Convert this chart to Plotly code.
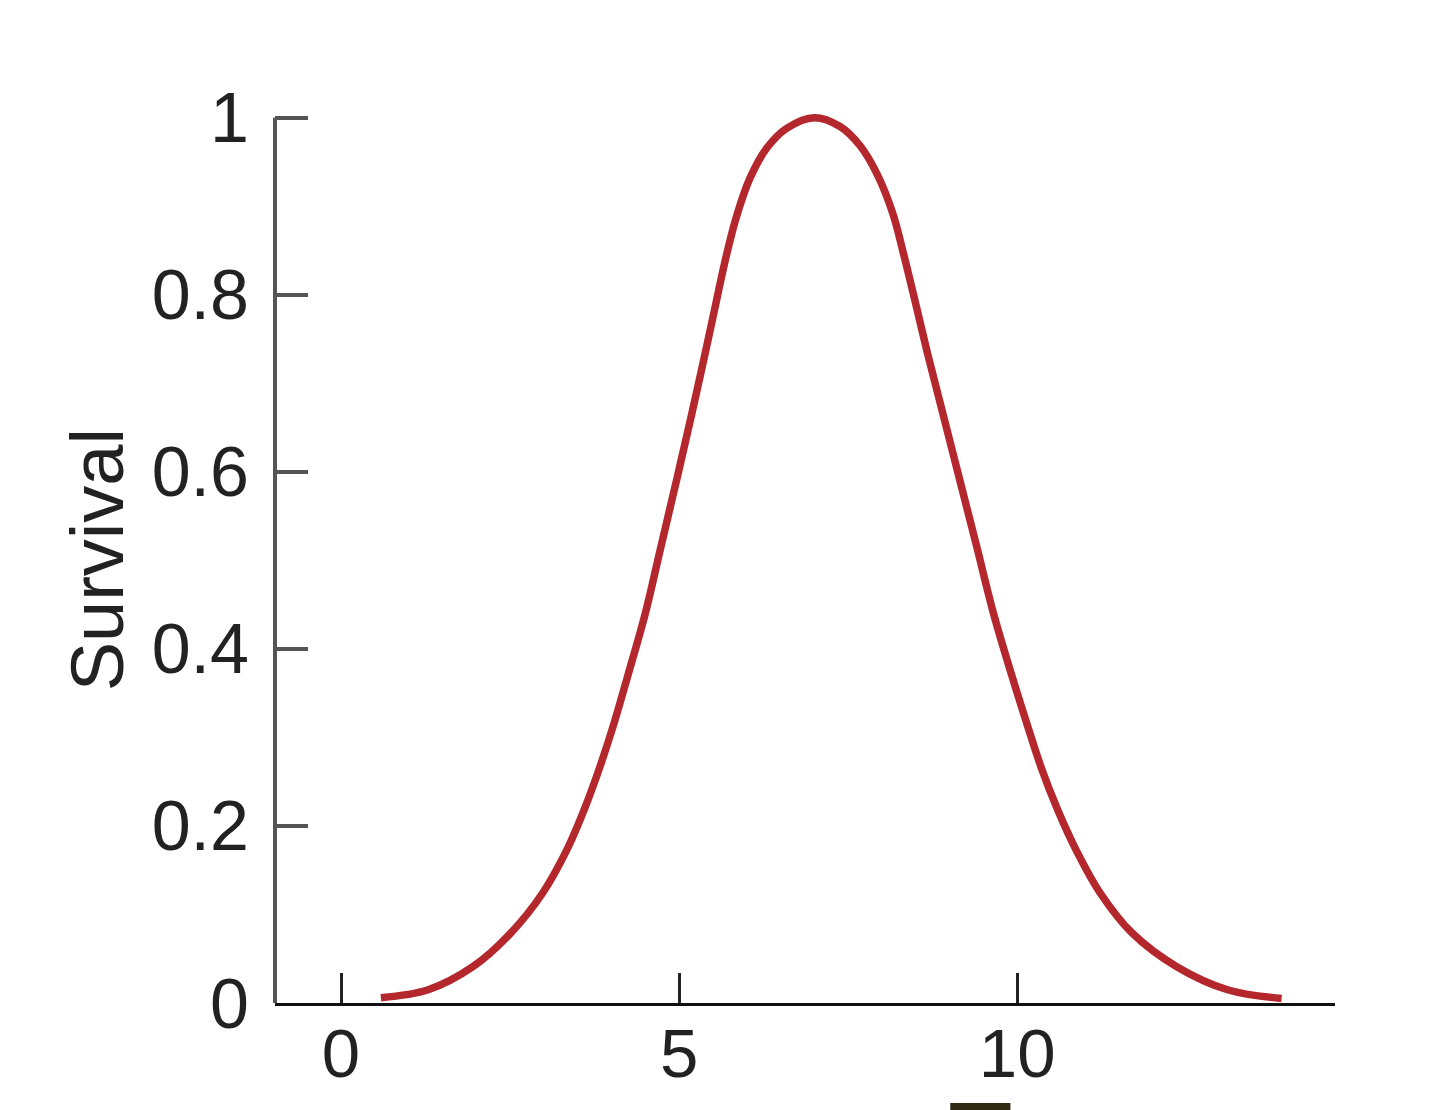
import plotly.graph_objects as go

# Data
x_vals = [0.59, 1.29, 1.95, 2.51, 2.98, 3.34, 3.61, 3.83, 4.03, 4.25, 4.50, 4.73, 4.97,
          5.18, 5.36, 5.53, 5.68, 5.84, 6.05, 6.30, 6.59, 7.00, 7.38, 7.68, 7.93, 8.16,
          8.32, 8.48, 8.67, 8.90, 9.15, 9.40, 9.65, 9.92, 10.15, 10.36, 10.60, 10.87,
          11.23, 11.70, 12.36, 13.11, 13.91]
survival = [0.006, 0.015, 0.041, 0.079, 0.124, 0.173, 0.221, 0.267, 0.314, 0.372, 0.440,
            0.515, 0.593, 0.663, 0.725, 0.785, 0.838, 0.886, 0.932, 0.966, 0.988, 1.000,
            0.990, 0.968, 0.936, 0.892, 0.846, 0.796, 0.735, 0.666, 0.591, 0.516, 0.440,
            0.370, 0.314, 0.265, 0.218, 0.173, 0.124, 0.079, 0.041, 0.015, 0.005]

x_ticks = [0, 5, 10]
x_tick_labels = ["0", "5", "10"]
y_ticks = [0, 0.2, 0.4, 0.6, 0.8, 1]
y_tick_labels = ["0", "0.2", "0.4", "0.6", "0.8", "1"]
y_title = "Survival"

FONT = "Liberation Sans, Arial, Helvetica, sans-serif"

fig = go.Figure()
fig.add_trace(go.Scatter(
    x=x_vals, y=survival, mode="lines",
    line=dict(color="#B3272D", width=7.5, shape="spline", smoothing=1.0),
    showlegend=False, hoverinfo="skip",
))

fig.update_layout(
    width=1440, height=1110,
    margin=dict(l=275, r=105, t=100, b=107, pad=0),
    paper_bgcolor="white", plot_bgcolor="white",
    font=dict(family=FONT, size=70, color="#222222"),
    xaxis=dict(
        range=[-0.976, 14.70], tickvals=x_ticks, ticktext=x_tick_labels,
        ticks="inside", ticklen=30, tickwidth=3, tickcolor="#222222",
        showline=True, linecolor="#111111", linewidth=3,
        showgrid=False, zeroline=False, ticklabelstandoff=-12, automargin=False,
        tickfont=dict(family=FONT, size=69, color="#222222"),
    ),
    yaxis=dict(
        range=[0, 1.02], tickvals=y_ticks, ticktext=y_tick_labels,
        ticks="inside", ticklen=33, tickwidth=3.5, tickcolor="#555555",
        showline=False, showgrid=False, zeroline=False, ticklabelstandoff=25,
        automargin=False,
        tickfont=dict(family=FONT, size=70, color="#222222"),
    ),
    shapes=[
        dict(type="line", xref="paper", yref="y", x0=0, x1=0, y0=0, y1=1,
             line=dict(color="#555555", width=4), layer="below"),
        dict(type="rect", xref="x", yref="paper", x0=9.01, x1=9.90, y0=-0.1107, y1=-0.125,
             fillcolor="#2E2C12", line=dict(width=0), layer="above"),
    ],
    annotations=[
        dict(text=y_title, xref="paper", yref="y", x=0, y=0.5, xshift=-178,
             xanchor="center", yanchor="middle", textangle=-90, showarrow=False,
             font=dict(family=FONT, size=74, color="#222222")),
    ],
)

fig.write_html("out.html", config={"displayModeBar": False},
               post_script="document.body.style.margin='0px';")
